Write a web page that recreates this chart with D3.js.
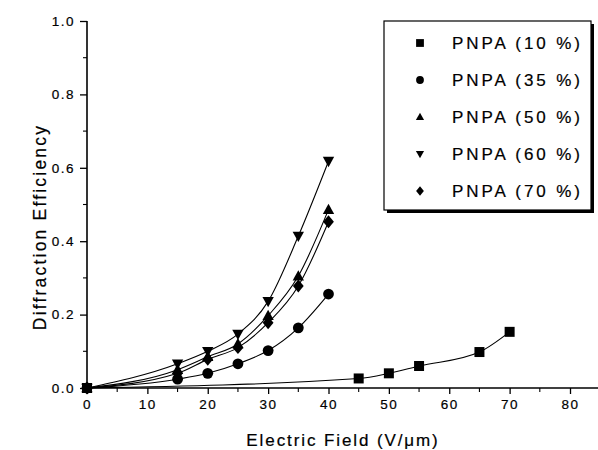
<!DOCTYPE html>
<html>
<head>
<meta charset="utf-8">
<script src="https://cdn.jsdelivr.net/npm/d3@7"></script>
<style>
  html, body { margin: 0; padding: 0; background: #fff; }
  svg { display: block; font-family: "Liberation Sans", Arial, Helvetica, sans-serif; }
  text { stroke: #000; stroke-width: 0.2px; fill: #000; }
</style>
</head>
<body>
<svg id="chart" width="598" height="450"></svg>
<script>
// ---- data ----
const seriesNames = ["PNPA (10 %)", "PNPA (35 %)", "PNPA (50 %)", "PNPA (60 %)", "PNPA (70 %)"];
const seriesSymbols = ["square", "circle", "triangleUp", "triangleDown", "diamond"];
const field10 = [0, 45, 50, 55, 65, 70];
const eff10   = [0, 0.026, 0.040, 0.060, 0.098, 0.153];
const fieldHigh = [0, 15, 20, 25, 30, 35, 40];
const eff35 = [0, 0.024, 0.040, 0.066, 0.102, 0.164, 0.256];
const eff50 = [0, 0.050, 0.085, 0.120, 0.197, 0.305, 0.486];
const eff60 = [0, 0.066, 0.100, 0.147, 0.236, 0.414, 0.618];
const eff70 = [0, 0.040, 0.078, 0.110, 0.178, 0.278, 0.453];
const xTicks = [0, 10, 20, 30, 40, 50, 60, 70, 80];
const yTicks = [0.0, 0.2, 0.4, 0.6, 0.8, 1.0];
const xLabel = "Electric Field (V/\u03bcm)";
const yLabel = "Diffraction Efficiency";

const seriesData = [
  field10.map((x, i) => ({x, y: eff10[i]})),
  fieldHigh.map((x, i) => ({x, y: eff35[i]})),
  fieldHigh.map((x, i) => ({x, y: eff50[i]})),
  fieldHigh.map((x, i) => ({x, y: eff60[i]})),
  fieldHigh.map((x, i) => ({x, y: eff70[i]}))
];

const svg = d3.select("#chart");
const x = d3.scaleLinear().domain([0, 80]).range([87, 570]);
const y = d3.scaleLinear().domain([0, 1]).range([388, 21]);

function symbolPath(kind, size) {
  const s = size;
  switch (kind) {
    case "square": return `M${-s},${-s}H${s}V${s}H${-s}Z`;
    case "circle": return d3.symbol(d3.symbolCircle, Math.PI * s * s)();
    case "triangleUp": return `M0,${-s*1.1}L${s*1.05},${s*0.8}L${-s*1.05},${s*0.8}Z`;
    case "triangleDown": return `M0,${s*1.1}L${s*1.05},${-s*0.8}L${-s*1.05},${-s*0.8}Z`;
    case "diamond": return `M0,${-s*1.2}L${s*1.0},0L0,${s*1.2}L${-s*1.0},0Z`;
  }
}

// ---- axes ----
const xAxis = d3.axisBottom(x).tickValues(xTicks).tickFormat(d3.format("d")).tickSize(6).tickPadding(5);
const gx = svg.append("g").attr("transform", "translate(0,388)").call(xAxis);
gx.select(".domain").remove();
gx.append("line").attr("x1", 87).attr("x2", 598).attr("y1", 0).attr("y2", 0)
  .attr("stroke", "#000").attr("stroke-width", 1.6);
gx.selectAll(".tick line").attr("stroke-width", 1.3);
gx.selectAll(".tick text").attr("font-size", 13.5).attr("letter-spacing", "1.5px")
  .attr("font-family", "'Liberation Sans', Arial, sans-serif");
// minor x ticks
const xMinor = d3.range(5, 80, 10);
svg.append("g").selectAll("line").data(xMinor).join("line")
  .attr("x1", d => x(d)).attr("x2", d => x(d)).attr("y1", 388).attr("y2", 392)
  .attr("stroke", "#000").attr("stroke-width", 1.1);

const yAxis = d3.axisLeft(y).tickValues(yTicks).tickFormat(d3.format(".1f")).tickSize(7).tickPadding(5);
const gy = svg.append("g").attr("transform", "translate(87,0)").call(yAxis);
gy.select(".domain").remove();
gy.append("line").attr("x1", 0).attr("x2", 0).attr("y1", 21).attr("y2", 388)
  .attr("stroke", "#000").attr("stroke-width", 1.6);
gy.selectAll(".tick line").attr("stroke-width", 1.3);
gy.selectAll(".tick text").attr("font-size", 13.5).attr("letter-spacing", "1.5px")
  .attr("font-family", "'Liberation Sans', Arial, sans-serif");
const yMinor = d3.range(0.1, 1.0, 0.2);
svg.append("g").selectAll("line").data(yMinor).join("line")
  .attr("x1", 83).attr("x2", 87).attr("y1", d => y(d)).attr("y2", d => y(d))
  .attr("stroke", "#000").attr("stroke-width", 1.1);

// axis titles
svg.append("text").attr("x", 343).attr("y", 446).attr("text-anchor", "middle")
  .attr("font-size", 17).attr("letter-spacing", "1.9px").text(xLabel);
svg.append("text").attr("transform", "translate(46,227) rotate(-90)").attr("text-anchor", "middle")
  .attr("font-size", 17.5).attr("letter-spacing", "2.2px").text(yLabel);

// ---- lines ----
const line = d3.line().x(d => x(d.x)).y(d => y(d.y)).curve(d3.curveMonotoneX);
svg.append("g").selectAll("path").data(seriesData).join("path")
  .attr("d", line).attr("fill", "none").attr("stroke", "#000").attr("stroke-width", 1.1);

// ---- markers ----
seriesData.forEach((data, i) => {
  svg.append("g").selectAll("path").data(data).join("path")
    .attr("transform", d => `translate(${x(d.x)},${y(d.y)})`)
    .attr("d", symbolPath(seriesSymbols[i], i === 0 ? 5 : 5.4))
    .attr("fill", "#000");
});

// ---- legend ----
const lg = svg.append("g");
lg.append("rect").attr("x", 387).attr("y", 24).attr("width", 207).attr("height", 189).attr("fill", "#000");
lg.append("rect").attr("x", 384).attr("y", 21).attr("width", 207).attr("height", 189)
  .attr("fill", "#fff").attr("stroke", "#000").attr("stroke-width", 1.2);
const rowY = [43, 80, 117, 154, 191];
seriesNames.forEach((name, i) => {
  lg.append("path").attr("transform", `translate(420,${rowY[i]})`)
    .attr("d", symbolPath(seriesSymbols[i], 3.9)).attr("fill", "#000");
  lg.append("text").attr("x", 452).attr("y", rowY[i] + 6).attr("font-size", 17)
    .attr("letter-spacing", "2.9px").text(name);
});
</script>
</body>
</html>
